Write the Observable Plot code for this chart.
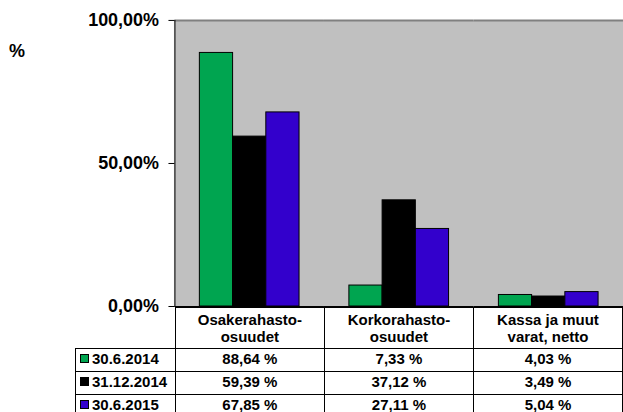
<!DOCTYPE html>
<html><head><meta charset="utf-8">
<script src="https://cdn.jsdelivr.net/npm/d3@7"></script>
<script src="https://cdn.jsdelivr.net/npm/@observablehq/plot@0.6"></script>
<style>
html,body{margin:0;padding:0;background:#fff;overflow:hidden}
#wrap{position:relative;width:623px;height:412px;overflow:hidden;font-family:"Liberation Sans",Arial,sans-serif;font-weight:bold;color:#000}
#chart{position:absolute;left:0;top:0}
#pct{position:absolute;left:9px;top:40px;font-size:18px;line-height:22px}
#tbl{position:absolute;left:75px;top:307px;border-collapse:collapse;table-layout:fixed;font-size:15px}
#tbl td{padding:0;text-align:center;border:1px solid #000;white-space:nowrap;overflow:hidden;box-sizing:border-box}
#tbl tr.head td{height:41px;line-height:17px;vertical-align:middle}
#tbl tr.row td{height:23px;line-height:16px;vertical-align:top;padding-top:2px}
#tbl td.blank{border:none}
#tbl td.leg{text-align:left;padding-left:4px}
.sw{display:inline-block;width:7px;height:7px;border:1px solid #000;margin-right:3px;vertical-align:1px}
</style>
</head><body>
<div id="wrap">
  <div id="chart"></div>
  <div id="pct">%</div>
  <table id="tbl"></table>
</div>
<script>
// ---- data ----
const categories = ["Osakerahasto-\nosuudet", "Korkorahasto-\nosuudet", "Kassa ja muut\nvarat, netto"];
const seriesNames = ["30.6.2014", "31.12.2014", "30.6.2015"];
const values_30_6_2014 = [88.64, 7.33, 4.03];
const values_31_12_2014 = [59.39, 37.12, 3.49];
const values_30_6_2015 = [67.85, 27.11, 5.04];
const seriesColors = ["#00a550", "#000000", "#3300cc"];
const yTicks = [0, 50, 100];

const seriesValues = [values_30_6_2014, values_31_12_2014, values_30_6_2015];
const data = [];
seriesNames.forEach((s, si) => categories.forEach((c, ci) => data.push({cat: c, series: s, value: seriesValues[si][ci]})));

const fmtTick = d => d.toFixed(2).replace(".", ",") + "%";
const fmtVal = d => d.toFixed(2).replace(".", ",") + " %";

const chart = Plot.plot({
  width: 625,
  height: 412,
  marginLeft: 175,
  marginRight: 0,
  marginTop: 20,
  marginBottom: 105,
  style: {fontFamily: "'Liberation Sans', Arial, sans-serif", fontWeight: "bold", background: "transparent", color: "#000"},
  fx: {domain: categories, padding: 0, axis: null, round: false},
  x: {domain: seriesNames, paddingInner: 0, paddingOuter: 0.75, axis: null, round: false},
  y: {domain: [0, 100], axis: null},
  color: {domain: seriesNames, range: seriesColors},
  marks: [
    Plot.frame({fill: "#c0c0c0", stroke: null, insetLeft: -1, insetRight: -1}),
    Plot.ruleY([100], {stroke: "#808080", strokeWidth: 2}),
    Plot.barY(data, {fx: "cat", x: "series", y: "value", fill: "series", stroke: "#000", strokeWidth: 1}),
    Plot.ruleY([0], {stroke: "#000", strokeWidth: 1}),
    Plot.frame({anchor: "left", stroke: "#000", fx: [categories[0]]}),
    Plot.axisY({ticks: yTicks, tickFormat: fmtTick, tickSize: 6, tickPadding: 10, fontSize: 18, label: null})
  ]
});
document.getElementById("chart").appendChild(chart);

// ---- data table below the chart ----
const tbl = document.getElementById("tbl");
const cg = document.createElement("colgroup");
[100, 150, 150, 150].forEach(w => { const c = document.createElement("col"); c.style.width = w + "px"; cg.appendChild(c); });
tbl.appendChild(cg);
const head = document.createElement("tr"); head.className = "head";
const b = document.createElement("td"); b.className = "blank"; head.appendChild(b);
categories.forEach(c => { const td = document.createElement("td"); c.split("\n").forEach((l, i) => { if (i) td.appendChild(document.createElement("br")); td.appendChild(document.createTextNode(l)); }); head.appendChild(td); });
tbl.appendChild(head);
seriesNames.forEach((s, si) => {
  const tr = document.createElement("tr"); tr.className = "row";
  const lg = document.createElement("td"); lg.className = "leg";
  const sw = document.createElement("span"); sw.className = "sw"; sw.style.background = seriesColors[si];
  lg.appendChild(sw); lg.appendChild(document.createTextNode(s)); tr.appendChild(lg);
  seriesValues[si].forEach(v => { const td = document.createElement("td"); td.textContent = fmtVal(v); tr.appendChild(td); });
  tbl.appendChild(tr);
});
</script>
</body></html>
